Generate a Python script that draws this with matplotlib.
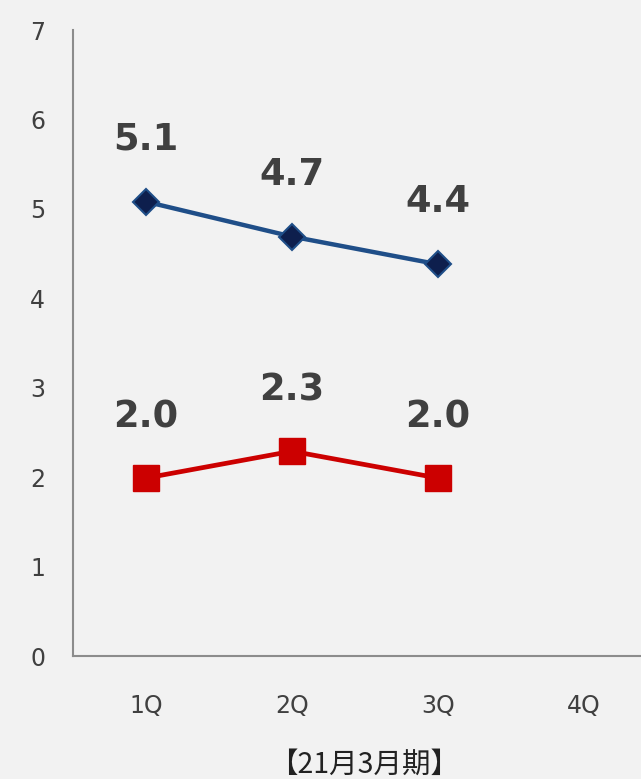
import matplotlib
matplotlib.use("Agg")
import matplotlib.pyplot as plt

categories = ["1Q", "2Q", "3Q", "4Q"]
blue_vals = [5.08, 4.69, 4.38]
red_vals = [1.99, 2.29, 1.99]
blue_labels = ["5.1", "4.7", "4.4"]
red_labels = ["2.0", "2.3", "2.0"]
title = "【21月3月期】"

bg = "#f2f2f2"
fig = plt.figure(figsize=(6.41, 7.79), dpi=100, facecolor=bg)
W, H = 641, 779
ax = fig.add_axes([73 / W, 1 - 656 / H, (657 - 73) / W, (656 - 30) / H])
ax.set_facecolor(bg)

x = list(range(len(blue_vals)))
ax.plot(x, blue_vals, color="#1f4e88", lw=3.2, marker="D", ms=13,
        markerfacecolor="#0e1f4d", markeredgecolor="#1f4e88", markeredgewidth=1.5, zorder=3)
ax.plot(x, red_vals, color="#cc0000", lw=3.4, marker="s", ms=18.5,
        markerfacecolor="#cc0000", markeredgecolor="#cc0000", zorder=3)

for xi, v, t in zip(x, blue_vals, blue_labels):
    ax.annotate(t, (xi, v), xytext=(0, 45), textcoords="offset points",
                ha="center", va="center", fontsize=26.5, fontweight="bold", color="#404040",
                family="DejaVu Sans")
for xi, v, t in zip(x, red_vals, red_labels):
    ax.annotate(t, (xi, v), xytext=(0, 44), textcoords="offset points",
                ha="center", va="center", fontsize=26.5, fontweight="bold", color="#404040",
                family="DejaVu Sans")

ax.set_xlim(-0.5, 3.5)
ax.set_ylim(0, 7)
ax.set_xticks(range(len(categories)))
ax.set_xticklabels(categories)
ax.set_yticks(range(0, 8))
ax.tick_params(axis="both", length=0, labelsize=17, labelcolor="#404040")
ax.tick_params(axis="y", pad=20)
ax.tick_params(axis="x", pad=27)
for s in ["top", "right"]:
    ax.spines[s].set_visible(False)
for s in ["left", "bottom"]:
    ax.spines[s].set_color("#8c8c8c")
    ax.spines[s].set_linewidth(1.5)

fig.text(364 / W, 1 - 765 / H, title, ha="center", va="center", fontsize=20.5,
         color="#222222", family=["Noto Sans CJK JP", "DejaVu Sans"])

fig.savefig("out.png", dpi=100, facecolor=bg)
